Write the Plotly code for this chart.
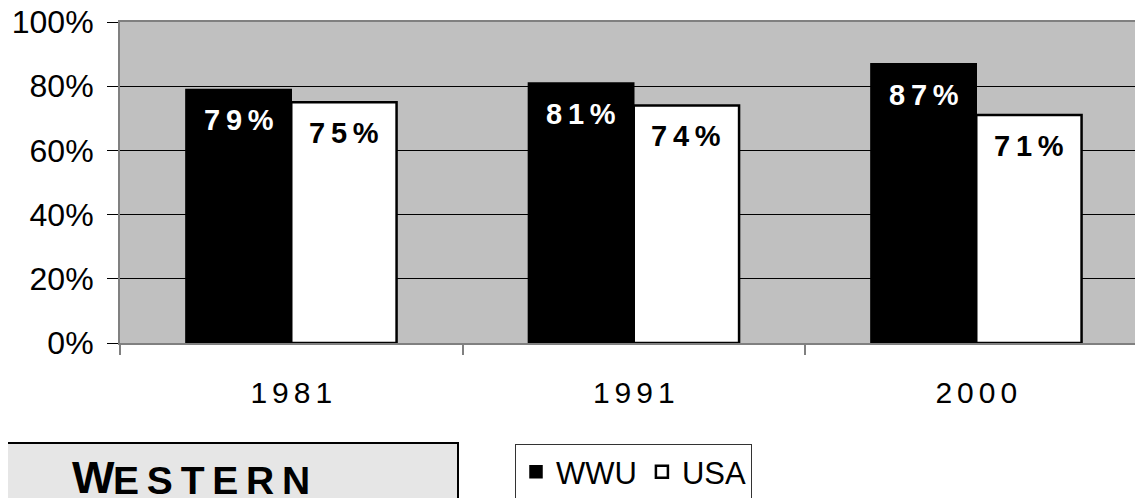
import plotly.graph_objects as go

years = ["1981", "1991", "2000"]
wwu = [79, 81, 87]
usa = [75, 74, 71]
series_names = ["WWU", "USA"]
y_ticks = [0, 20, 40, 60, 80, 100]

SP6 = "\u2006"   # six-per-em space for letter spacing
THIN = "\u2009"

def spaced(s, sp):
    return sp.join(list(s))

cats = [spaced(y, SP6) for y in years]

# page body has an 8px margin; work in screen pixels and convert
OFF = 8
W, H = 1143, 498
ML, MR, MT = 120 - OFF, 0, 22 - OFF
MB = H - (343 - OFF)
PW, PH = W - ML - MR, H - MT - MB
BARGAP = 0.385
CATW = 342.5

def px_x(x):
    return (x - OFF - ML) / PW

def px_y(y):
    return (H - MB - (y - OFF)) / PH

fig = go.Figure()
fig.add_trace(go.Bar(name=series_names[0], x=cats, y=wwu,
                     marker=dict(color="#000000", line=dict(color="#000000", width=1.5))))
fig.add_trace(go.Bar(name=series_names[1], x=cats, y=usa,
                     marker=dict(color="#ffffff", line=dict(color="#000000", width=2.5))))

off = (1 - BARGAP) / 4
annotations = []
for i in range(len(years)):
    for vals, sign, col in ((wwu, -1, "#ffffff"), (usa, 1, "#000000")):
        annotations.append(dict(
            x=i + sign * off, y=vals[i], xref="x", yref="y",
            text=spaced(f"{vals[i]}%", THIN), showarrow=False,
            yanchor="top", xanchor="center", yshift=-13,
            font=dict(family="Liberation Sans", size=29, color=col, weight="bold"),
        ))

# "WESTERN" box text (small caps look)
annotations.append(dict(xref="paper", yref="paper", x=px_x(70), y=px_y(477),
                        xanchor="left", yanchor="middle", text="<b>W</b>", showarrow=False,
                        font=dict(family="Liberation Sans", size=45, color="#000000")))
annotations.append(dict(xref="paper", yref="paper", x=px_x(111), y=px_y(480),
                        xanchor="left", yanchor="middle", text="<b>" + spaced("ESTERN", THIN) + "</b>",
                        showarrow=False,
                        font=dict(family="Liberation Sans", size=39, color="#000000")))

shapes = [dict(type="rect", xref="paper", yref="paper",
               x0=px_x(0), x1=px_x(458), y0=px_y(443), y1=px_y(540),
               fillcolor="#e6e6e6", line=dict(color="#000000", width=2), layer="below")]

fig.update_layout(
    width=W, height=H,
    margin=dict(l=ML, r=MR, t=MT, b=MB, autoexpand=False),
    paper_bgcolor="#ffffff", plot_bgcolor="#c0c0c0",
    barmode="group", bargap=BARGAP, bargroupgap=0,
    font=dict(family="Liberation Sans", color="#000000"),
    showlegend=True,
    legend=dict(orientation="h", x=px_x(515), y=px_y(444), xanchor="left", yanchor="top",
                bgcolor="#ffffff", bordercolor="#333333", borderwidth=1,
                font=dict(family="Liberation Sans", size=31, color="#000000"),
                itemwidth=30, tracegroupgap=0),
    annotations=annotations,
    shapes=shapes,
)
fig.update_xaxes(
    type="category", range=[-0.5, -0.5 + PW / CATW], automargin=False,
    showline=True, linecolor="#808080", linewidth=2, mirror=True,
    ticks="outside", tickson="boundaries", ticklen=10, tickwidth=2, tickcolor="#808080",
    tickfont=dict(family="Liberation Sans", size=30, color="#000000"),
    ticklabelstandoff=22, showgrid=False, zeroline=False,
)
fig.update_yaxes(
    range=[0, 100], tickmode="array", tickvals=y_ticks,
    ticktext=[f"{v}%" for v in y_ticks], automargin=False,
    ticklabeloverflow="allow",
    showline=True, linecolor="#808080", linewidth=2,
    ticks="outside", ticklen=11, tickwidth=1, tickcolor="#000000",
    tickfont=dict(family="Liberation Sans", size=32, color="#000000"),
    ticklabelstandoff=7,
    showgrid=True, gridcolor="#000000", gridwidth=1, zeroline=False,
)

fig.write_html("out.html")
